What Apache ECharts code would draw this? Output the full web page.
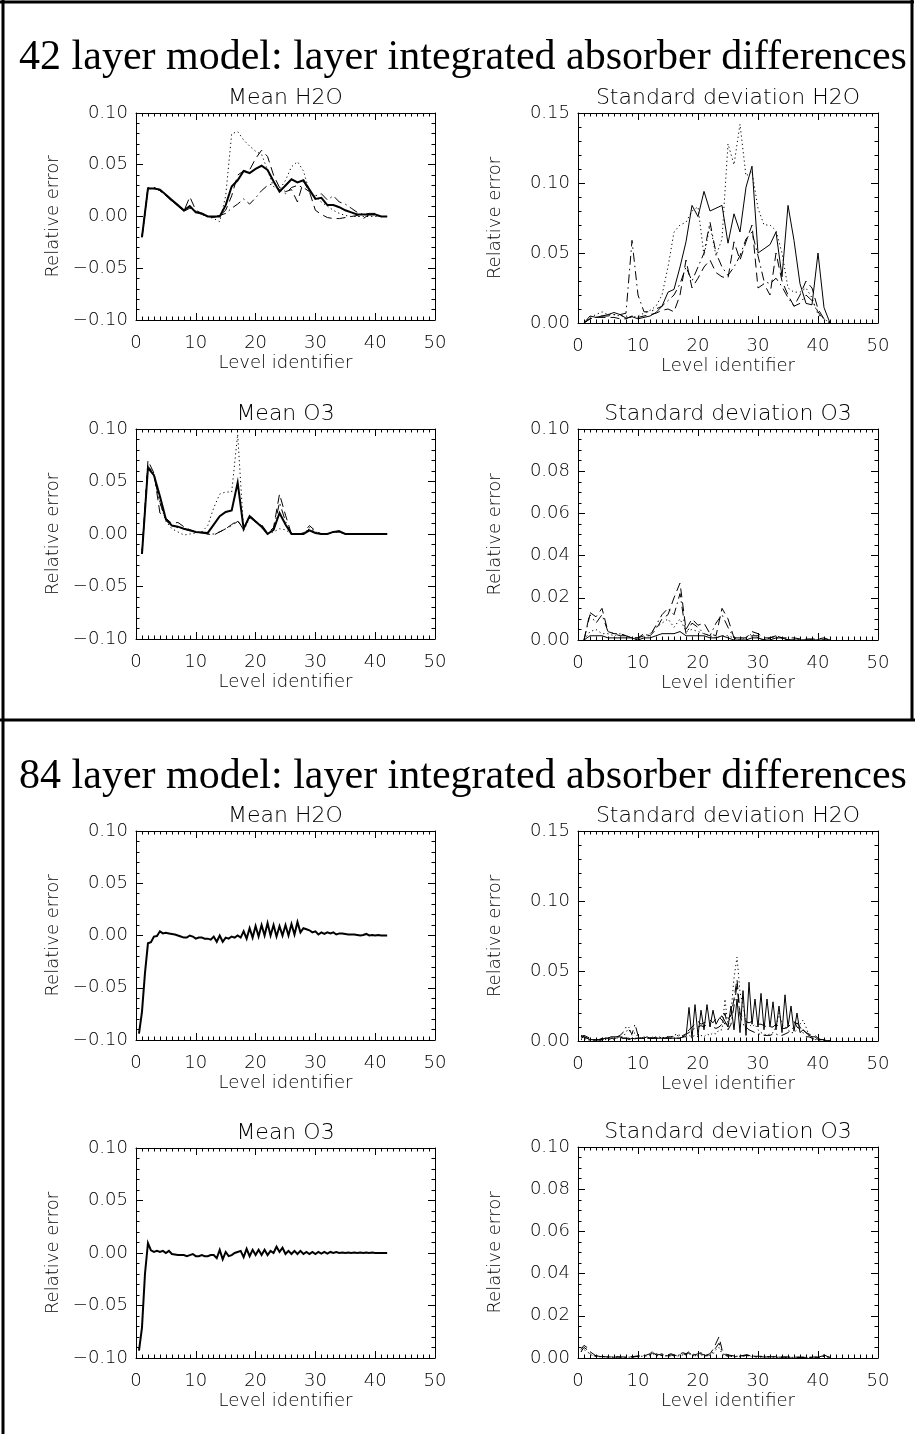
<!DOCTYPE html>
<html>
<head>
<meta charset="utf-8">
<script src="https://cdn.jsdelivr.net/npm/echarts@6/dist/echarts.min.js"></script>
<style>
html,body{margin:0;padding:0;background:#fff;}
#chart{width:915px;height:1434px;}
</style>
</head>
<body>
<div id="chart"></div>
<script>
// ---------------- DATA ----------------
const levels42 = [1,2,3,4,5,6,7,8,9,10,11,12,13,14,15,16,17,18,19,20,21,22,23,24,25,26,27,28,29,30,31,32,33,34,35,36,37,38,39,40,41,42];
const levels84 = [0.5,1,1.5,2,2.5,3,3.5,4,4.5,5,5.5,6,6.5,7,7.5,8,8.5,9,9.5,10,
  10.5,11,11.5,12,12.5,13,13.5,14,14.5,15,15.5,16,16.5,17,17.5,18,18.5,19,19.5,20,
  20.5,21,21.5,22,22.5,23,23.5,24,24.5,25,25.5,26,26.5,27,27.5,28,28.5,29,29.5,30,
  30.5,31,31.5,32,32.5,33,33.5,34,34.5,35,35.5,36,36.5,37,37.5,38,38.5,39,39.5,40,
  40.5,41,41.5,42];
const xTicks = [0,10,20,30,40,50];

// 42 layer model, mean H2O
const meanH2O42Solid = [-0.020,0.027,0.027,0.026,0.021,0.016,0.011,0.006,0.010,0.004,0.003,0.000,0.000,0.000,0.011,0.029,0.035,0.044,0.042,0.046,0.049,0.045,0.034,0.024,0.030,0.036,0.033,0.035,0.026,0.017,0.018,0.011,0.011,0.009,0.006,0.004,0.002,0.002,0.002,0.002,0.000,0.000];
const meanH2O42Dot = [-0.020,0.026,0.028,0.026,0.021,0.016,0.011,0.007,0.009,0.005,0.002,0.000,-0.002,-0.005,0.020,0.080,0.082,0.074,0.068,0.063,0.060,0.045,0.029,0.026,0.035,0.048,0.053,0.044,0.024,0.019,0.014,0.010,0.006,0.003,0.001,0.000,0.000,0.000,0.000,0.000,0.000,0.000];
const meanH2O42Dash = [-0.020,0.028,0.028,0.025,0.020,0.015,0.010,0.005,0.019,0.006,0.003,0.000,-0.001,0.001,0.006,0.020,0.040,0.044,0.045,0.056,0.064,0.058,0.040,0.028,0.024,0.026,0.014,0.034,0.024,0.006,0.002,-0.001,-0.002,-0.002,-0.001,0.000,0.001,-0.002,0.002,0.001,0.000,0.000];
const meanH2O42DashDot = [-0.020,0.027,0.028,0.025,0.020,0.015,0.010,0.005,0.008,0.005,0.002,0.000,0.000,0.001,0.003,0.008,0.012,0.017,0.012,0.018,0.025,0.030,0.032,0.026,0.022,0.028,0.030,0.028,0.024,0.020,0.022,0.016,0.020,0.014,0.012,0.008,0.004,0.002,0.003,0.003,0.000,0.000];

// 42 layer model, standard deviation H2O
const stdH2O42Solid = [0.000,0.005,0.004,0.005,0.006,0.0075,0.006,0.0035,0.0045,0.003,0.004,0.005,0.0075,0.012,0.022,0.024,0.040,0.058,0.084,0.076,0.094,0.080,0.082,0.084,0.057,0.078,0.065,0.097,0.112,0.050,0.053,0.056,0.065,0.033,0.084,0.059,0.028,0.014,0.013,0.050,0.011,0.000];
const stdH2O42Dot = [0.000,0.004,0.006,0.008,0.006,0.006,0.005,0.005,0.004,0.005,0.007,0.009,0.012,0.020,0.040,0.065,0.070,0.072,0.080,0.083,0.048,0.070,0.048,0.060,0.128,0.113,0.142,0.105,0.108,0.082,0.070,0.070,0.066,0.050,0.025,0.022,0.022,0.025,0.018,0.006,0.003,0.000];
const stdH2O42Dash = [0.000,0.003,0.004,0.004,0.004,0.004,0.003,0.003,0.005,0.004,0.005,0.006,0.007,0.009,0.010,0.008,0.020,0.045,0.025,0.032,0.040,0.045,0.036,0.033,0.032,0.058,0.045,0.058,0.070,0.025,0.028,0.020,0.050,0.030,0.020,0.012,0.020,0.030,0.025,0.010,0.003,0.000];
const stdH2O42DashDot = [0.000,0.003,0.004,0.005,0.005,0.006,0.006,0.007,0.059,0.020,0.008,0.008,0.010,0.012,0.016,0.020,0.028,0.040,0.030,0.040,0.050,0.072,0.050,0.040,0.034,0.040,0.048,0.060,0.065,0.048,0.030,0.028,0.032,0.026,0.018,0.012,0.014,0.020,0.016,0.008,0.002,0.000];

// 42 layer model, mean O3
const meanO342Solid = [-0.019,0.063,0.056,0.036,0.014,0.008,0.007,0.005,0.0035,0.002,0.0015,0.001,0.009,0.017,0.021,0.0225,0.049,0.005,0.017,0.012,0.007,0.000,0.004,0.020,0.009,0.000,0.000,0.000,0.0035,0.001,0.000,0.000,0.002,0.0025,0.000,0.000,0.000,0.000,0.000,0.000,0.000,0.000];
const meanO342Dot = [-0.019,0.065,0.058,0.030,0.012,0.005,0.002,-0.001,0.000,0.001,0.002,0.008,0.025,0.038,0.040,0.040,0.095,0.003,0.015,0.012,0.006,0.000,0.002,0.005,0.004,0.000,0.000,0.000,0.006,0.002,0.000,0.000,0.002,0.002,0.000,0.000,0.000,0.000,0.000,0.000,0.000,0.000];
const meanO342Dash = [-0.019,0.070,0.058,0.020,0.015,0.010,0.011,0.007,0.004,0.002,0.002,0.000,-0.001,0.002,0.005,0.009,0.013,0.004,0.018,0.012,0.009,0.001,0.006,0.038,0.018,0.000,0.000,0.001,0.008,0.003,0.000,0.000,0.002,0.003,0.000,0.000,0.000,0.000,0.000,0.000,0.000,0.000];
const meanO342DashDot = [-0.019,0.066,0.055,0.030,0.013,0.008,0.006,0.005,0.003,0.002,0.001,0.000,0.000,0.002,0.005,0.008,0.012,0.006,0.016,0.011,0.008,0.000,0.004,0.030,0.012,0.000,0.000,0.000,0.005,0.001,0.000,0.000,0.002,0.002,0.000,0.000,0.000,0.000,0.000,0.000,0.000,0.000];

// 42 layer model, standard deviation O3
const stdO342Solid = [0.000,0.002,0.002,0.002,0.001,0.001,0.001,0.001,0.001,0.000,0.001,0.001,0.002,0.003,0.003,0.003,0.004,0.002,0.002,0.002,0.002,0.001,0.001,0.002,0.001,0.000,0.000,0.000,0.001,0.001,0.000,0.000,0.001,0.001,0.000,0.000,0.000,0.000,0.000,0.000,0.000,0.000];
const stdO342Dot = [0.000,0.004,0.005,0.003,0.003,0.002,0.003,0.002,0.001,0.000,0.002,0.003,0.006,0.008,0.010,0.006,0.010,0.004,0.005,0.004,0.003,0.002,0.001,0.002,0.002,0.001,0.000,0.001,0.003,0.001,0.000,0.001,0.001,0.001,0.000,0.000,0.000,0.000,0.000,0.000,0.000,0.000];
const stdO342Dash = [0.000,0.013,0.011,0.015,0.004,0.003,0.003,0.002,0.001,0.001,0.003,0.002,0.005,0.010,0.012,0.020,0.027,0.005,0.010,0.007,0.008,0.003,0.002,0.015,0.010,0.001,0.001,0.001,0.004,0.003,0.001,0.001,0.002,0.001,0.001,0.001,0.0005,0.0005,0.0005,0.0005,0.001,0.000];
const stdO342DashDot = [0.000,0.012,0.008,0.012,0.004,0.003,0.002,0.002,0.001,0.001,0.002,0.002,0.007,0.012,0.015,0.012,0.022,0.003,0.008,0.006,0.003,0.002,0.008,0.012,0.006,0.001,0.001,0.001,0.002,0.002,0.000,0.001,0.002,0.001,0.000,0.000,0.000,0.000,0.000,0.000,0.000,0.000];

// 84 layer model, mean H2O
const meanH2O84Solid = [
  -0.094,-0.073,-0.036,-0.0075,-0.0065,-0.001,-0.0005,0.004,0.002,0.0025,
  0.002,0.0015,0.001,0.000,-0.001,-0.002,-0.002,0.000,-0.001,-0.003,
  -0.002,-0.002,-0.003,-0.003,-0.004,-0.001,-0.006,0.000,-0.006,-0.002,
  -0.003,-0.001,-0.002,0.000,-0.002,0.004,-0.003,0.007,-0.002,0.009,
  -0.001,0.010,0.000,0.012,0.000,0.010,-0.001,0.009,0.000,0.010,
  0.000,0.011,0.001,0.013,0.003,0.007,0.006,0.005,0.003,0.004,
  0.001,0.003,0.0015,0.003,0.002,0.003,0.001,0.002,0.002,0.0015,
  0.001,0.001,0.001,0.0005,0.000,0.0005,0.0015,0.000,0.0005,0.000,
  0.0005,0.000,0.000,0.000];

// 84 layer model, standard deviation H2O
const stdH2O84Solid = [
  0.004,0.003,0.002,0.001,0.001,0.000,0.000,0.001,0.002,0.002,
  0.003,0.003,0.003,0.003,0.002,0.002,0.001,0.002,0.0015,0.002,
  0.002,0.002,0.003,0.002,0.002,0.002,0.002,0.002,0.002,0.002,
  0.002,0.002,0.002,0.002,0.003,0.003,0.024,0.002,0.026,0.004,
  0.022,0.008,0.026,0.010,0.022,0.012,0.016,0.018,0.014,0.010,
  0.025,0.008,0.030,0.006,0.036,0.004,0.042,0.012,0.030,0.010,
  0.034,0.008,0.030,0.010,0.028,0.008,0.025,0.006,0.033,0.010,
  0.025,0.007,0.020,0.006,0.008,0.006,0.004,0.003,0.003,0.001,
  0.001,0.001,0.000,0.000];
const stdH2O84Dot = [
  0.001,0.002,0.001,0.000,0.000,0.001,0.001,0.001,0.001,0.001,
  0.001,0.001,0.002,0.003,0.003,0.006,0.010,0.004,0.006,0.003,
  0.002,0.003,0.002,0.002,0.003,0.002,0.003,0.002,0.003,0.003,
  0.003,0.004,0.005,0.004,0.003,0.002,0.004,0.003,0.004,0.003,
  0.004,0.003,0.005,0.004,0.006,0.005,0.008,0.008,0.030,0.010,
  0.020,0.045,0.060,0.035,0.025,0.015,0.012,0.010,0.012,0.008,
  0.006,0.005,0.004,0.005,0.006,0.010,0.020,0.012,0.010,0.008,
  0.006,0.006,0.008,0.012,0.015,0.010,0.004,0.002,0.001,0.001,
  0.000,0.000,0.000,0.000];
const stdH2O84Dash = [
  0.003,0.004,0.003,0.002,0.001,0.001,0.001,0.002,0.002,0.002,
  0.002,0.002,0.002,0.002,0.002,0.002,0.002,0.001,0.002,0.002,
  0.002,0.002,0.002,0.002,0.002,0.002,0.002,0.002,0.002,0.002,
  0.002,0.002,0.002,0.002,0.003,0.005,0.008,0.010,0.012,0.014,
  0.012,0.013,0.014,0.015,0.013,0.016,0.017,0.015,0.012,0.016,
  0.018,0.030,0.044,0.020,0.016,0.014,0.013,0.014,0.013,0.012,
  0.012,0.011,0.010,0.010,0.010,0.012,0.010,0.009,0.009,0.010,
  0.012,0.014,0.010,0.008,0.008,0.006,0.005,0.004,0.004,0.002,
  0.001,0.001,0.000,0.000];
const stdH2O84DashDot = [
  0.002,0.003,0.002,0.001,0.001,0.001,0.001,0.001,0.002,0.002,
  0.002,0.002,0.003,0.004,0.006,0.010,0.008,0.005,0.012,0.004,
  0.003,0.002,0.002,0.002,0.002,0.003,0.002,0.003,0.002,0.003,
  0.003,0.003,0.004,0.003,0.004,0.005,0.006,0.008,0.009,0.010,
  0.011,0.010,0.012,0.011,0.010,0.009,0.010,0.012,0.020,0.008,
  0.012,0.025,0.040,0.018,0.012,0.010,0.008,0.007,0.006,0.005,
  0.005,0.004,0.004,0.004,0.005,0.005,0.004,0.004,0.005,0.006,
  0.008,0.010,0.013,0.010,0.006,0.003,0.003,0.002,0.001,0.001,
  0.001,0.000,0.000,0.000];

// 84 layer model, mean O3
const meanO384Solid = [
  -0.093,-0.071,-0.020,0.0095,0.0025,0.001,0.002,0.001,0.002,0.000,
  0.002,-0.001,-0.0015,-0.002,-0.002,-0.002,-0.003,-0.002,-0.001,-0.003,
  -0.003,-0.002,-0.003,-0.003,-0.002,-0.002,-0.005,0.003,-0.006,0.001,
  -0.003,-0.002,0.000,0.001,0.002,-0.004,0.004,-0.003,0.003,-0.002,
  0.003,-0.002,0.003,-0.002,0.002,0.000,0.006,0.001,0.005,-0.001,
  0.002,-0.001,0.002,-0.001,0.002,-0.001,0.001,-0.001,0.001,-0.001,
  0.001,-0.0005,0.001,-0.0005,0.001,0.000,0.001,0.000,0.0005,0.000,
  0.0005,0.000,0.0005,0.000,0.0005,0.000,0.0005,0.000,0.0005,0.000,
  0.000,0.000,0.000,0.000];

// 84 layer model, standard deviation O3
const stdO384Dash = [
  0.004,0.006,0.005,0.003,0.002,0.001,0.001,0.0008,0.0006,0.0005,
  0.0005,0.0005,0.0006,0.0005,0.0005,0.0004,0.0005,0.0006,0.0008,0.001,
  0.0012,0.001,0.0015,0.002,0.0035,0.002,0.0015,0.002,0.001,0.0015,
  0.002,0.0015,0.001,0.002,0.0025,0.002,0.003,0.002,0.0015,0.002,
  0.0025,0.002,0.0015,0.002,0.004,0.007,0.010,0.004,0.002,0.0015,
  0.0012,0.001,0.001,0.001,0.0012,0.0015,0.0015,0.001,0.0008,0.0008,
  0.0008,0.0007,0.0007,0.0006,0.0006,0.0006,0.0005,0.0005,0.0005,0.0005,
  0.0004,0.0004,0.0004,0.0004,0.0004,0.0003,0.0003,0.0004,0.0005,0.0004,
  0.001,0.0015,0.0008,0.0003];
const stdO384DashDot = [
  0.003,0.005,0.004,0.002,0.001,0.001,0.0008,0.0006,0.0005,0.0005,
  0.0004,0.0004,0.0005,0.0004,0.0004,0.0004,0.0005,0.0005,0.0006,0.0008,
  0.001,0.0012,0.001,0.0015,0.0025,0.0015,0.001,0.0015,0.0012,0.001,
  0.0015,0.001,0.0012,0.0015,0.002,0.0015,0.0025,0.0015,0.001,0.0015,
  0.002,0.0015,0.001,0.0015,0.003,0.005,0.007,0.003,0.0015,0.001,
  0.001,0.0008,0.0008,0.0008,0.001,0.0012,0.0012,0.0008,0.0006,0.0006,
  0.0006,0.0005,0.0005,0.0005,0.0005,0.0005,0.0004,0.0004,0.0004,0.0004,
  0.0003,0.0003,0.0003,0.0003,0.0003,0.0003,0.0003,0.0003,0.0004,0.0003,
  0.0008,0.001,0.0006,0.0002];
const stdO384Dot = [
  0.003,0.004,0.003,0.002,0.001,0.0008,0.0006,0.0005,0.0005,0.0004,
  0.0004,0.0004,0.0004,0.0004,0.0004,0.0003,0.0004,0.0004,0.0005,0.0006,
  0.0008,0.0008,0.001,0.001,0.002,0.0012,0.001,0.0012,0.001,0.0008,
  0.001,0.001,0.0008,0.0012,0.0015,0.001,0.002,0.0012,0.001,0.001,
  0.0015,0.001,0.001,0.0012,0.002,0.004,0.005,0.002,0.001,0.0008,
  0.0008,0.0006,0.0006,0.0006,0.0008,0.001,0.001,0.0006,0.0005,0.0005,
  0.0005,0.0004,0.0004,0.0004,0.0004,0.0004,0.0003,0.0003,0.0003,0.0003,
  0.0003,0.0003,0.0003,0.0003,0.0002,0.0002,0.0002,0.0002,0.0003,0.0002,
  0.0005,0.0008,0.0005,0.0002];

const mainTitles = ['42 layer model: layer integrated absorber differences',
                    '84 layer model: layer integrated absorber differences'];
const panelTitles = ['Mean H2O','Standard deviation H2O','Mean O3','Standard deviation O3',
                     'Mean H2O','Standard deviation H2O','Mean O3','Standard deviation O3'];
const xName = 'Level identifier';
const yName = 'Relative error';

// ---------------- LAYOUT / STYLE ----------------
const FONT = 'DejaVu Sans';
const DASH = {solid:'solid', dotted:[1.2,3], dashed:[9,5], dashdot:[9,4,1.5,4]};
const Lmean = {left:136, width:299};
const Lstd = {left:578, width:300};
const panels = [
  {g:{...Lmean, top:113, height:207}, yMin:-0.1, yMax:0.1, yInt:0.05, yMinor:5, x:levels42,
   lines:[[meanH2O42Dot,'dotted',1],[meanH2O42Dash,'dashed',1],[meanH2O42DashDot,'dashdot',1],[meanH2O42Solid,'solid',2]]},
  {g:{...Lstd, top:113, height:210}, yMin:0, yMax:0.15, yInt:0.05, yMinor:5, x:levels42,
   lines:[[stdH2O42Dot,'dotted',1],[stdH2O42Dash,'dashed',1],[stdH2O42DashDot,'dashdot',1],[stdH2O42Solid,'solid',1]]},
  {g:{...Lmean, top:429, height:210}, yMin:-0.1, yMax:0.1, yInt:0.05, yMinor:5, x:levels42,
   lines:[[meanO342Dot,'dotted',1],[meanO342Dash,'dashed',1],[meanO342DashDot,'dashdot',1],[meanO342Solid,'solid',2]]},
  {g:{...Lstd, top:429, height:211}, yMin:0, yMax:0.1, yInt:0.02, yMinor:4, x:levels42,
   lines:[[stdO342Dot,'dotted',1],[stdO342Dash,'dashed',1],[stdO342DashDot,'dashdot',1],[stdO342Solid,'solid',1]]},
  {g:{...Lmean, top:831, height:209}, yMin:-0.1, yMax:0.1, yInt:0.05, yMinor:5, x:levels84,
   lines:[[meanH2O84Solid,'solid',2]]},
  {g:{...Lstd, top:831, height:210}, yMin:0, yMax:0.15, yInt:0.05, yMinor:5, x:levels84,
   lines:[[stdH2O84Dot,'dotted',1],[stdH2O84Dash,'dashed',1],[stdH2O84DashDot,'dashdot',1],[stdH2O84Solid,'solid',1]]},
  {g:{...Lmean, top:1148, height:210}, yMin:-0.1, yMax:0.1, yInt:0.05, yMinor:5, x:levels84,
   lines:[[meanO384Solid,'solid',2]]},
  {g:{...Lstd, top:1147, height:211}, yMin:0, yMax:0.1, yInt:0.02, yMinor:4, x:levels84,
   lines:[[stdO384Dot,'dotted',1],[stdO384Dash,'dashed',1],[stdO384DashDot,'dashdot',1]]}
];

const labelStyle = {color:'#000', fontFamily:FONT, fontSize:18, fontWeight:300};
const axisLine = {show:true, onZero:false, lineStyle:{color:'#000', width:1}};
const tick = {show:true, inside:true, length:7, lineStyle:{color:'#000', width:1}};
const fmtY = v => (v < -1e-9 ? '\u2212' : '') + Math.abs(v).toFixed(2);

const grid = [], xAxis = [], yAxis = [], series = [];
const graphic = [];

panels.forEach((p, i) => {
  grid.push({left:p.g.left, top:p.g.top, width:p.g.width, height:p.g.height, containLabel:false});
  const xBase = {type:'value', gridIndex:i, min:0, max:50, interval:10, axisLine,
    axisTick:tick, minorTick:{show:true, splitNumber:10, length:3.5, lineStyle:{color:'#000'}},
    splitLine:{show:false}, minorSplitLine:{show:false}};
  xAxis.push({...xBase, position:'bottom',
    axisLabel:{...labelStyle, margin:14, formatter: v => String(v)},
    name:xName, nameLocation:'middle', nameGap:34, nameTextStyle:{...labelStyle}});
  xAxis.push({...xBase, position:'top', axisLabel:{show:false}});
  const yBase = {type:'value', gridIndex:i, min:p.yMin, max:p.yMax, interval:p.yInt, axisLine,
    axisTick:tick, minorTick:{show:true, splitNumber:p.yMinor, length:3.5, lineStyle:{color:'#000'}},
    splitLine:{show:false}, minorSplitLine:{show:false}};
  yAxis.push({...yBase, position:'left',
    axisLabel:{...labelStyle, margin:8, formatter:fmtY},
    name:yName, nameLocation:'middle', nameGap:74, nameTextStyle:{...labelStyle}});
  yAxis.push({...yBase, position:'right', axisLabel:{show:false}});
  p.lines.forEach(([ys, style, w]) => {
    series.push({type:'line', xAxisIndex:2*i, yAxisIndex:2*i, symbol:'none', showSymbol:false,
      silent:true, animation:false, clip:true,
      lineStyle:{color:'#000', width:w, type:DASH[style], cap:'butt', join:'miter'},
      data: p.x.map((xv, k) => [xv, ys[k]])});
  });
  graphic.push({type:'text', silent:true,
    style:{text:panelTitles[i], x:p.g.left + p.g.width/2, y:p.g.top - 15,
      textAlign:'center', textVerticalAlign:'middle',
      fontFamily:FONT, fontSize:22, fontWeight:300, fill:'#000'}});
});

// main titles
graphic.push({type:'text', silent:true, style:{text:mainTitles[0], x:463, y:58, textAlign:'center',
  textVerticalAlign:'middle', fontFamily:'"Liberation Serif","Times New Roman",serif', fontSize:42, fill:'#000'}});
graphic.push({type:'text', silent:true, style:{text:mainTitles[1], x:463, y:777, textAlign:'center',
  textVerticalAlign:'middle', fontFamily:'"Liberation Serif","Times New Roman",serif', fontSize:42, fill:'#000'}});
// frame lines
const frame = [[0,2,914,2],[3,0,3,1434],[912,0,912,720],[0,720,915,720]];
frame.forEach(f => graphic.push({type:'line', silent:true,
  shape:{x1:f[0], y1:f[1], x2:f[2], y2:f[3]}, style:{stroke:'#000', lineWidth:3}}));

const chart = echarts.init(document.getElementById('chart'), null, {renderer:'canvas'});
chart.setOption({backgroundColor:'#fff', animation:false, grid, xAxis, yAxis, series, graphic});
</script>
</body>
</html>
